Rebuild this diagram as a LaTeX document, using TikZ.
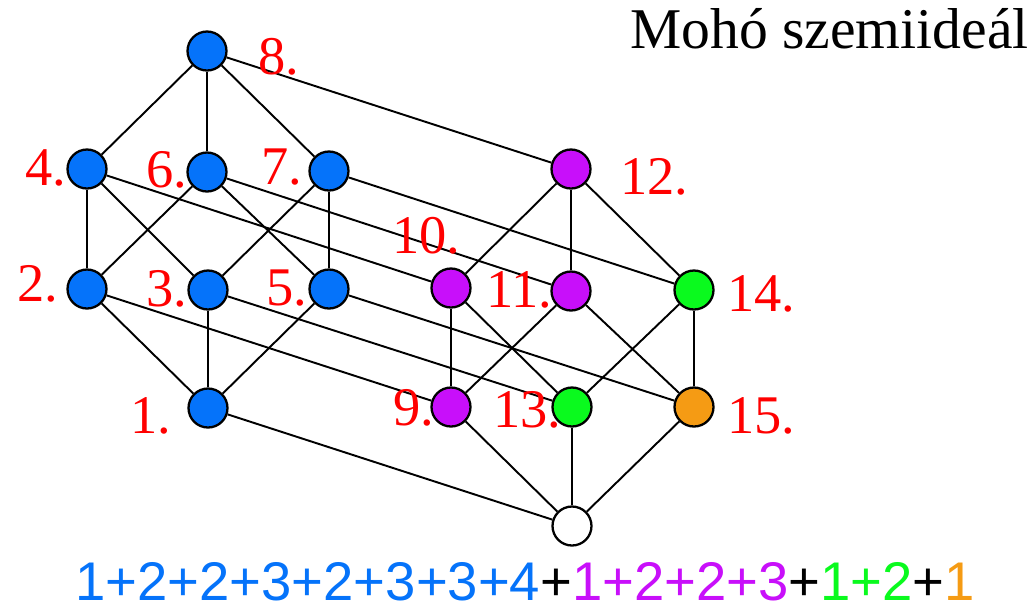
\documentclass[tikz,border=0pt]{standalone}
\usepackage{fontspec}
\setmainfont{Liberation Serif}
\setsansfont{Liberation Sans}
\usepackage{xcolor}
\definecolor{szblue}{RGB}{5,115,250}
\definecolor{szpurple}{RGB}{200,15,250}
\definecolor{szgreen}{RGB}{10,250,30}
\definecolor{szorange}{RGB}{245,155,20}

\begin{document}
\begin{tikzpicture}[x=0.02cm,y=-0.02cm,
    vertex/.style={circle,draw,line width=1.3pt,minimum size=0.78cm,inner sep=0pt},
    num/.style={anchor=base west,text=red,inner sep=0pt,font=\fontsize{31}{31}\selectfont},
    link/.style={line width=1.1pt}]
  \useasboundingbox (0,0) rectangle (1035,610);
  % vertices: number / x / y / colour
  \foreach \n/\x/\y/\c in {8/207/51/szblue, 4/87/169/szblue, 6/207/172/szblue, 7/329/171/szblue,
      2/87/289/szblue, 3/208/290/szblue, 5/329/289/szblue, 1/208/408/szblue,
      12/571/169/szpurple, 10/451/288/szpurple, 11/571/291/szpurple, 9/451/407/szpurple,
      14/694/290/szgreen, 13/572/407/szgreen, 15/694/407/szorange, 0/572/526/white}
    \node[vertex,fill=\c] (v\n) at (\x,\y) {};
  % edges of the two cubes and the rungs between them
  \foreach \a/\b in {1/2,1/3,1/5,2/4,2/6,3/4,3/7,5/6,5/7,4/8,6/8,7/8,
      0/9,0/13,0/15,9/10,9/11,13/10,13/14,15/11,15/14,10/12,11/12,14/12,
      1/0,2/9,3/13,5/15,4/10,6/11,7/14,8/12}
    \draw[link] (v\a) -- (v\b);
  % numbering
  \foreach \n/\x/\y in {8/258/74, 4/25/185, 6/146/187, 7/261/184, 2/17/301, 3/146/306,
      5/266/305, 1/130/433, 12/620/194, 10/392/253, 11/486/307, 14/727/311,
      9/393/425, 13/493/427, 15/727/433}
    \node[num] (l\n) at (\x,\y) {\n.};
  \node[anchor=base east,inner sep=0pt,font=\fontsize{32.8}{32}\selectfont] (title) at (1029,48) {Mohó szemiideál};
  \node[anchor=base west,inner sep=0pt,font=\sffamily\fontsize{31}{30}\selectfont] (sum) at (75,600)
    {\textcolor{szblue}{1+2+2+3+2+3+3+4}+\textcolor{szpurple}{1+2+2+3}+\textcolor{szgreen}{1+2}+\textcolor{szorange}{1}};
\end{tikzpicture}
\end{document}
